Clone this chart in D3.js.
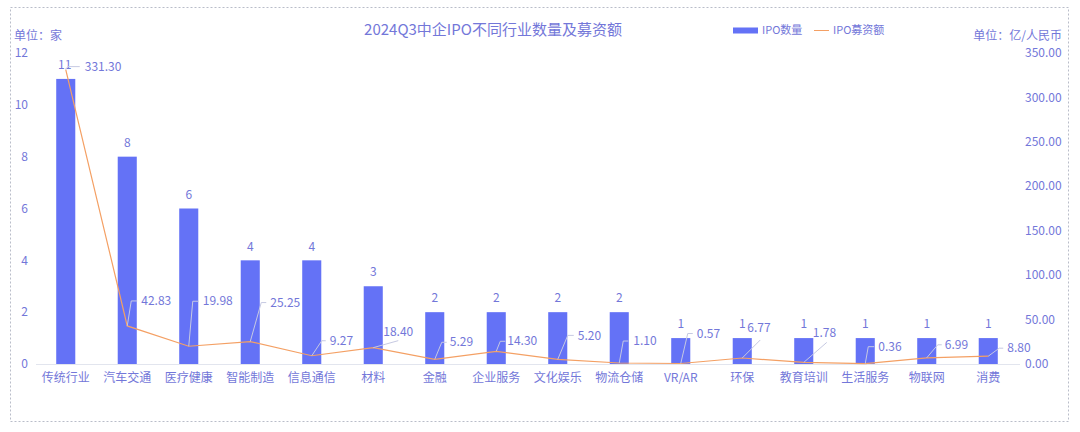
<!DOCTYPE html>
<html><head><meta charset="utf-8">
<script src="https://cdn.jsdelivr.net/npm/d3@7"></script>
<style>
html,body{margin:0;padding:0;background:#fff;}
svg text{font-family:"Noto Sans CJK SC","Noto Sans",sans-serif;}
</style></head>
<body><svg id="c" width="1080" height="432"></svg>
<script>
const title = "2024Q3中企IPO不同行业数量及募资额";
const categories = ["传统行业","汽车交通","医疗健康","智能制造","信息通信","材料","金融","企业服务","文化娱乐","物流仓储","VR/AR","环保","教育培训","生活服务","物联网","消费"];
const ipoCount = [11,8,6,4,4,3,2,2,2,2,1,1,1,1,1,1];
const ipoAmount = [331.30,42.83,19.98,25.25,9.27,18.40,5.29,14.30,5.20,1.10,0.57,6.77,1.78,0.36,6.99,8.80];
const leftTicks = [0,2,4,6,8,10,12];
const rightTicks = [0,50,100,150,200,250,300,350];
const seriesNames = ["IPO数量","IPO募资额"];
const unitLeft = "单位：家";
const unitRight = "单位：亿/人民币";
// label layout for line labels: [elbowDx, elbowDy, endDx, endDy, textDx, textDy]
const lineLabelLayout = [
 [2,-3,14,-3,19,-3],[4,-25,10,-25,14,-25],[4,-45,10,-45,14,-45],[11,-39,16,-39,20,-39],
 [10,-15,14,-15,18,-15],[25,-7,25,-7,10,-16],[7,-17,12,-17,15,-17],[4,-10,9,-10,11,-10],
 [10,-24,16,-24,20,-24],[4,-22,9,-22,14,-22],[7,-30,12,-30,16,-30],[18,-18,18,-18,5,-30],
 [23,-20,23,-20,9,-30],[3,-17,9,-17,13,-17],[11,-13,15,-13,18,-13],[11,-8,15,-8,19,-8]
];

const textColor = "#7377d9", barColor = "#6472f6", lineColor = "#f4a064", leaderColor = "#c6c9e2";
const svg = d3.select("#c");
svg.append("rect").attr("x",10.5).attr("y",7.5).attr("width",1058).attr("height",414)
  .attr("fill","none").attr("stroke","#b9bdc9").attr("stroke-dasharray","2,2");

const x = d3.scaleBand().domain(categories).range([35,1019]).paddingInner(0.69).paddingOuter(0.345);
const yL = d3.scaleLinear().domain([0,12]).range([364,53]);
const yR = d3.scaleLinear().domain([0,350]).range([364,53]);
const cx = c => x(c) + x.bandwidth()/2;

// baseline
svg.append("line").attr("x1",36).attr("x2",1020).attr("y1",364.5).attr("y2",364.5).attr("stroke","#e2e5ee");

// left ticks
svg.append("g").selectAll("text").data(leftTicks).join("text")
  .attr("x",28).attr("y",d=>yL(d)).attr("dy","0.35em").attr("text-anchor","end")
  .attr("font-size",12).attr("fill",textColor).text(d=>d);
// right ticks
svg.append("g").selectAll("text").data(rightTicks).join("text")
  .attr("x",1025).attr("y",d=>yR(d)).attr("dy","0.35em").attr("text-anchor","start")
  .attr("font-size",12).attr("fill",textColor).text(d=>d3.format(".2f")(d));
// units
svg.append("text").attr("x",14).attr("y",40).attr("font-size",12).attr("fill",textColor).text(unitLeft);
svg.append("text").attr("x",1062).attr("y",40).attr("text-anchor","end").attr("font-size",12).attr("fill",textColor).text(unitRight);
// title
svg.append("text").attr("x",493).attr("y",35).attr("text-anchor","middle").attr("font-size",15).attr("fill",textColor).text(title);
// legend
svg.append("rect").attr("x",733).attr("y",27.5).attr("width",25).attr("height",6).attr("fill",barColor);
svg.append("text").attr("x",762).attr("y",34).attr("font-size",11).attr("fill",textColor).text(seriesNames[0]);
svg.append("line").attr("x1",814).attr("x2",829).attr("y1",30.5).attr("y2",30.5).attr("stroke",lineColor).attr("stroke-width",1);
svg.append("text").attr("x",833).attr("y",34).attr("font-size",11).attr("fill",textColor).text(seriesNames[1]);

// bars
svg.append("g").selectAll("rect").data(categories).join("rect")
  .attr("x",c=>x(c)).attr("width",x.bandwidth())
  .attr("y",(c,i)=>yL(ipoCount[i])).attr("height",(c,i)=>yL(0)-yL(ipoCount[i]))
  .attr("fill",barColor);
// bar labels
svg.append("g").selectAll("text").data(categories).join("text")
  .attr("x",(c,i)=> i===0 ? cx(c)-1 : cx(c)).attr("y",(c,i)=>yL(ipoCount[i])-14).attr("dy","0.35em")
  .attr("text-anchor","middle").attr("font-size",12).attr("fill",textColor).text((c,i)=>ipoCount[i]);

// line
const line = d3.line().x((d,i)=>cx(categories[i])).y(d=>yR(d));
svg.append("path").datum(ipoAmount).attr("d",line).attr("fill","none").attr("stroke",lineColor).attr("stroke-width",1.2);

// leaders + labels
const lg = svg.append("g");
ipoAmount.forEach((v,i)=>{
  const px = cx(categories[i]), py = yR(v), L = lineLabelLayout[i];
  lg.append("polyline").attr("points",[[px,py],[px+L[0],py+L[1]],[px+L[2],py+L[3]]].map(p=>p.join(",")).join(" "))
    .attr("fill","none").attr("stroke",leaderColor).attr("stroke-width",1);
  lg.append("text").attr("x",px+L[4]).attr("y",py+L[5]).attr("dy","0.35em")
    .attr("font-size",12).attr("fill",textColor).text(d3.format(".2f")(v));
});

// category labels
svg.append("g").selectAll("text").data(categories).join("text")
  .attr("x",c=>cx(c)).attr("y",378).attr("dy","0.35em").attr("text-anchor","middle")
  .attr("font-size",12).attr("fill",textColor).text(c=>c);
</script></body></html>
